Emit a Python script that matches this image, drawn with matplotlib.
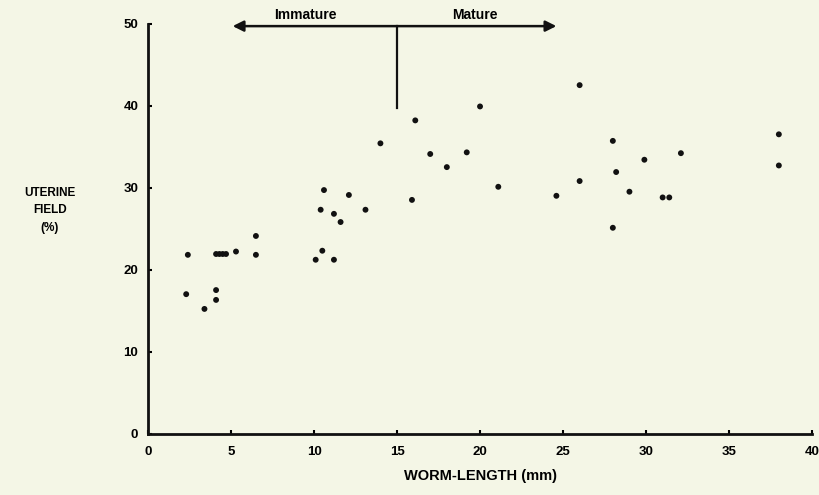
import matplotlib
matplotlib.use("Agg")
import matplotlib.pyplot as plt

# worm length (mm) vs uterine field (%)
worm_length = [2.3, 2.4, 3.4, 4.1, 4.1, 4.1, 4.3, 4.5, 4.7, 5.3, 6.5, 6.5,
               10.1, 10.4, 10.5, 10.6, 11.2, 11.2, 11.6, 12.1, 13.1,
               14.0, 15.9, 16.1, 17.0, 18.0, 19.2, 20.0, 21.1, 24.6,
               26.0, 26.0, 28.0, 28.0, 28.2, 29.0, 29.9, 31.0, 31.4, 32.1,
               38.0, 38.0]
uterine_field = [17.0, 21.8, 15.2, 17.5, 16.3, 21.9, 21.9, 21.9, 21.9, 22.2, 24.1, 21.8,
                 21.2, 27.3, 22.3, 29.7, 21.2, 26.8, 25.8, 29.1, 27.3,
                 35.4, 28.5, 38.2, 34.1, 32.5, 34.3, 39.9, 30.1, 29.0,
                 42.5, 30.8, 35.7, 25.1, 31.9, 29.5, 33.4, 28.8, 28.8, 34.2,
                 36.5, 32.7]

maturity_cut = 15.0
arrow_span = (5.1, 24.6)
arrow_y = 49.7
cut_bottom = 39.7

bg = '#f4f6e6'
plt.rcParams['font.family'] = ['Liberation Sans', 'DejaVu Sans']

fig = plt.figure(figsize=(8.2, 4.95), dpi=100, facecolor=bg)
ax = fig.add_axes([0.1805, 0.1242, 0.8098, 0.828], facecolor=bg)

ax.scatter(worm_length, uterine_field, s=18, color='#111111', zorder=3, edgecolors='none')

ax.annotate('', xy=(arrow_span[0], arrow_y), xytext=(arrow_span[1], arrow_y),
            arrowprops=dict(arrowstyle='<|-|>', lw=1.8, color='#111111',
                            mutation_scale=16, shrinkA=0, shrinkB=0),
            annotation_clip=False)
ax.plot([maturity_cut, maturity_cut], [cut_bottom, arrow_y], color='#111111', lw=1.6, clip_on=False)
ax.text(9.5, arrow_y + 0.5, 'Immature', ha='center', va='bottom', fontsize=10, fontweight='bold')
ax.text(19.7, arrow_y + 0.5, 'Mature', ha='center', va='bottom', fontsize=10, fontweight='bold')

ax.set_xlim(0, 40)
ax.set_ylim(0, 50)
ax.set_xticks(range(0, 41, 5))
ax.set_yticks(range(0, 51, 10))
for s in ['top', 'right']:
    ax.spines[s].set_visible(False)
for s in ['left', 'bottom']:
    ax.spines[s].set_linewidth(2)
    ax.spines[s].set_color('#111111')
ax.tick_params(direction='in', length=3, width=1.5, labelsize=9.5)
ax.tick_params(axis='x', pad=9)
ax.tick_params(axis='y', pad=7)
for lab in ax.get_xticklabels() + ax.get_yticklabels():
    lab.set_fontweight('bold')

ax.set_xlabel('WORM-LENGTH (mm)', fontsize=10.5, fontweight='bold', labelpad=8)
fig.text(0.061, 0.575, 'UTERINE\nFIELD\n(%)', ha='center', va='center',
         fontsize=8.5, fontweight='bold', linespacing=1.6)

plt.savefig('out.png', dpi=100, facecolor=bg)
